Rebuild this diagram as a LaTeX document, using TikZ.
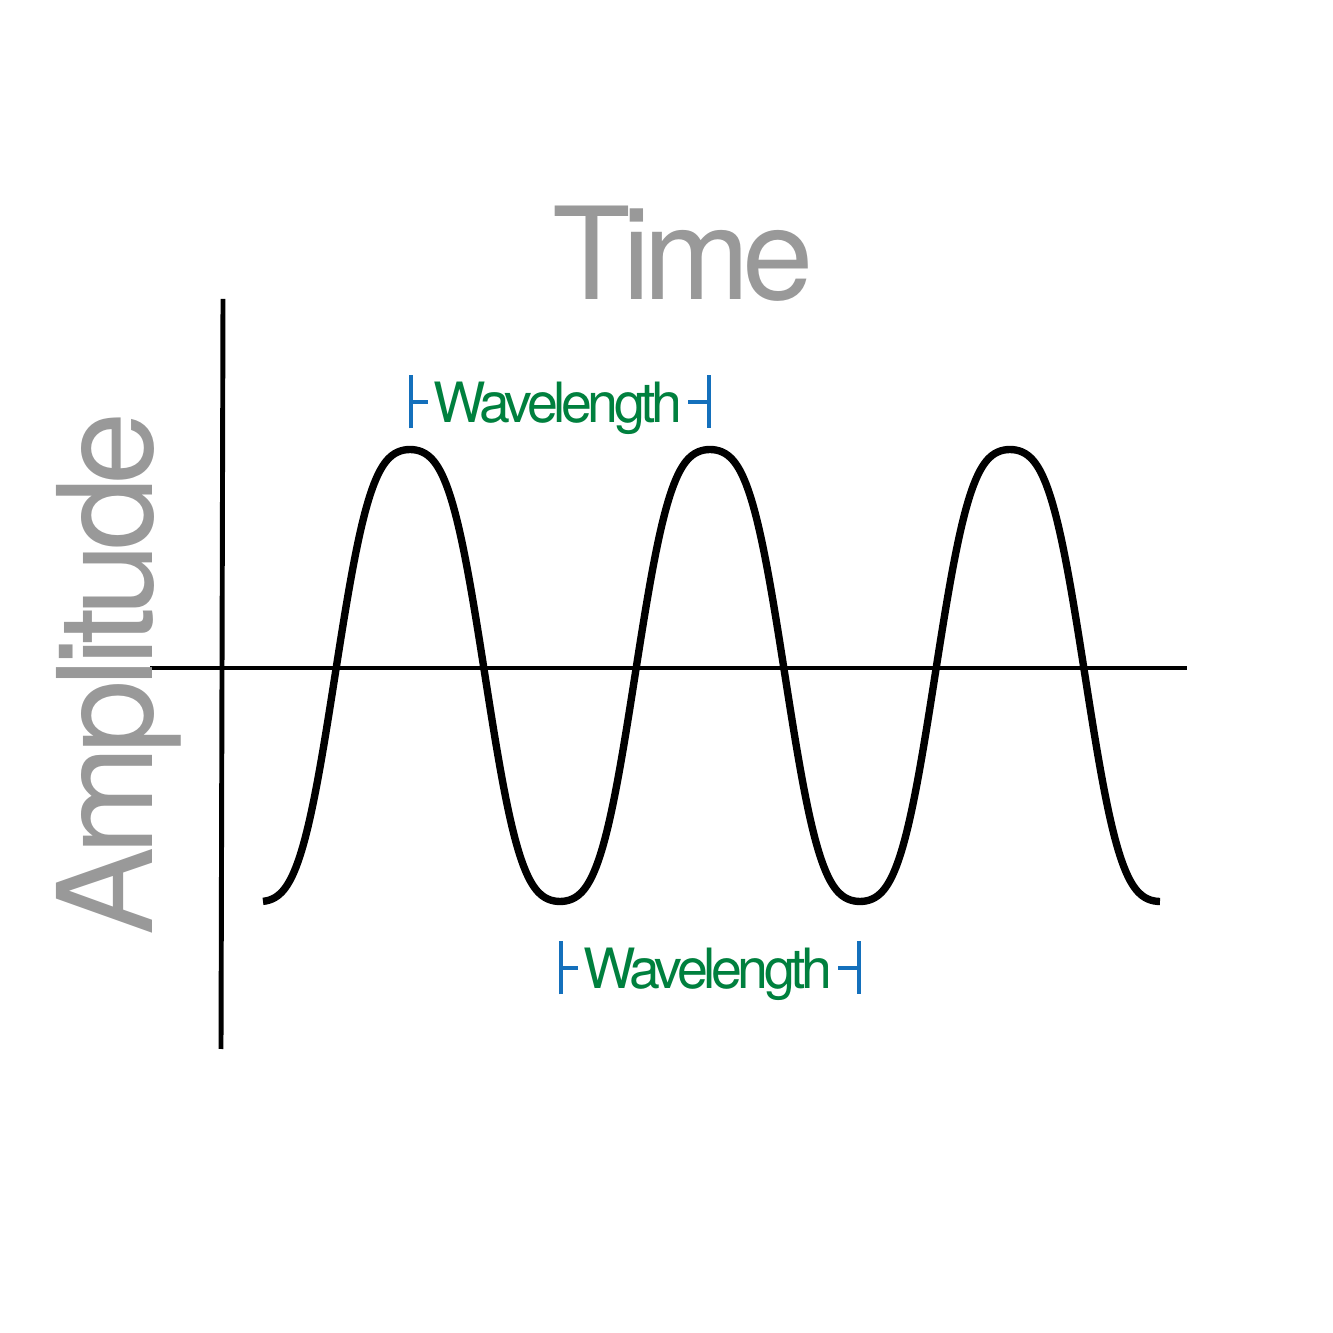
\documentclass[tikz,border=0pt]{standalone}
\usepackage{fontspec}
\setmainfont{TeX Gyre Heros}
\newfontfamily\axisfont[LetterSpace=-6]{TeX Gyre Heros}
\newfontfamily\wavefont[LetterSpace=-8]{TeX Gyre Heros}
\usetikzlibrary{arrows.meta}
\definecolor{axisgray}{RGB}{153,153,153}
\definecolor{wlgreen}{RGB}{0,128,62}
\definecolor{wlblue}{RGB}{20,112,188}

\begin{document}
\begin{tikzpicture}[
  axislabel/.style={text=axisgray,inner sep=0pt,anchor=base},
  wlabel/.style={text=wlgreen,inner sep=0.5mm,text depth=0pt,
    font=\wavefont\fontsize{15.8}{18}\selectfont},
  wlbar/.style={draw=wlblue,line width=1.1pt,{Bar[width=5.3mm]}-}]
  \useasboundingbox (0,0) rectangle (13.33,13.33);
  % axes
  \coordinate (yTop) at (2.23,10.34);
  \coordinate (yBot) at (2.21,2.84);
  \coordinate (xLeft) at (1.50,6.65);
  \coordinate (xRight) at (11.87,6.65);
  \draw[line width=1.4pt] (yTop)--(yBot);
  \draw[line width=1.1pt] (xLeft)--(xRight);
  \node[axislabel,font=\axisfont\fontsize{36.5}{40}\selectfont] (time) at (6.83,10.33) {Time};
  \node[axislabel,rotate=90,font=\axisfont\fontsize{37.5}{40}\selectfont] (amp) at (1.53,6.59) {Amplitude};
  % wave
  \draw[line width=2.1pt,domain=2.63:11.60,samples=300,smooth,variable=\x]
    plot (\x,{6.575-2.26*(cos(120*(\x-2.60))-0.08*cos(360*(\x-2.60)))/0.92});
  % wavelength marks
  \coordinate (peakA) at (4.09,9.31);
  \coordinate (peakB) at (7.11,9.31);
  \coordinate (troughA) at (5.59,3.65);
  \coordinate (troughB) at (8.61,3.65);
  \node[wlabel] (wlTop) at (5.58,9.31) {Wavelength};
  \node[wlabel] (wlBot) at (7.08,3.65) {Wavelength};
  \draw[wlbar] (peakA)--(wlTop);
  \draw[wlbar] (peakB)--(wlTop);
  \draw[wlbar] (troughA)--(wlBot);
  \draw[wlbar] (troughB)--(wlBot);
\end{tikzpicture}
\end{document}
